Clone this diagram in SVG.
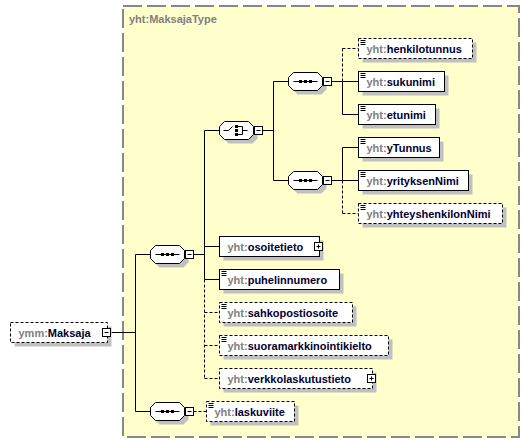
<svg xmlns="http://www.w3.org/2000/svg" xmlns:xlink="http://www.w3.org/1999/xlink" width="530" height="443" viewBox="0 0 530 443">
<style>
.frame{fill:#ffffcc;stroke:#888888;stroke-width:2;stroke-dasharray:19,5}
.title{font:bold 11px "Liberation Sans",Arial,sans-serif;fill:#808080}
.sh{fill:#c0c0c0;stroke:none}
.box{fill:#ffffff;stroke:#000000;stroke-width:1}
.opt{stroke-dasharray:3,2}
.ln{fill:none;stroke:#000000;stroke-width:1}
.dash{stroke-dasharray:3,2}
.t{font:bold 11px "Liberation Sans",Arial,sans-serif}
.ns{fill:#808080}
.nm{fill:#000033}
.dot{fill:#000000}
</style>
<defs>
<path id="oct" d="M5,-9 H29 L34,-4 V4 L29,9 H5 L0,4 V-4 Z"/>
<g id="minus"><rect class="box" x="35" y="-4" width="8" height="8"/><path class="ln" d="M37,0 H41"/></g>
<g id="seqShape">
<use href="#oct" class="sh" x="4" y="4"/>
<use href="#oct" class="box"/>
<path class="ln" d="M5,0 H29"/>
<rect class="dot" x="10.5" y="-1.5" width="3" height="3"/>
<rect class="dot" x="15.5" y="-1.5" width="3" height="3"/>
<rect class="dot" x="20.5" y="-1.5" width="3" height="3"/>
<use href="#minus"/>
</g>
<path id="icon" class="ln" d="M2,2 H7 M2,4 H7 M2,6 H7"/>
</defs>

<rect class="frame" x="123" y="6" width="396" height="431"/>
<text class="title" x="129" y="23">yht:MaksajaType</text>

<g id="connectors">
<path class="ln" d="M111.5,332.5 H135.5 M135.5,254.5 V411.5 M135.5,254.5 H150.5 M135.5,411.5 H150.5"/>
<path class="ln" d="M193.5,254.5 H204.5 M204.5,130.5 V279.5 M204.5,130.5 H219.5 M204.5,246.5 H219.5 M204.5,279.5 H219.5"/>
<path class="ln dash" d="M204.5,279.5 V378.5 M204.5,312.5 H219.5 M204.5,345.5 H219.5 M204.5,378.5 H219.5"/>
<path class="ln" d="M262.5,130.5 H273.5 M273.5,81.5 V180.5 M273.5,81.5 H288.5 M273.5,180.5 H288.5"/>
<path class="ln" d="M331.5,81.5 H342.5 M342.5,81.5 V114.5 M342.5,81.5 H358.5 M342.5,114.5 H358.5"/>
<path class="ln dash" d="M342.5,48.5 V81.5 M342.5,48.5 H358.5"/>
<path class="ln" d="M331.5,180.5 H342.5 M342.5,147.5 V180.5 M342.5,147.5 H358.5 M342.5,180.5 H358.5"/>
<path class="ln dash" d="M342.5,180.5 V213.5 M342.5,213.5 H358.5"/>
<path class="ln dash" d="M193.5,411.5 H206.5"/>
</g>

<g id="seq-main" transform="translate(150.5,254.5)"><use href="#seqShape"/></g>
<g id="seq-bottom" transform="translate(150.5,411.5)"><use href="#seqShape"/></g>
<g id="seq-person" transform="translate(288.5,81.5)"><use href="#seqShape"/></g>
<g id="seq-company" transform="translate(288.5,180.5)"><use href="#seqShape"/></g>

<g id="choice" transform="translate(219.5,130.5)">
<use href="#oct" class="sh" x="4" y="4"/>
<use href="#oct" class="box"/>
<path class="ln" d="M4,0 H9 L13,-4 M18,-4 H23 V4 H18 M23,0 H28"/>
<rect class="dot" x="15.5" y="-5.5" width="3" height="3"/>
<rect class="dot" x="15.5" y="-1.5" width="3" height="3"/>
<rect class="dot" x="15.5" y="2.5" width="3" height="3"/>
<use href="#minus"/>
</g>

<g id="maksaja" transform="translate(10.5,322.5)">
<rect class="sh" x="4" y="4" width="97" height="20"/>
<rect class="box opt" width="97" height="20"/>
<text class="t" x="8" y="14"><tspan class="ns">ymm:</tspan><tspan class="nm">Maksaja</tspan></text>
<rect class="box" x="92" y="6" width="8" height="8"/><path class="ln" d="M94,10 H98"/>
</g>

<g id="henkilotunnus" transform="translate(358.5,38.5)">
<rect class="sh" x="4" y="4" width="114" height="20"/>
<rect class="box opt" width="114" height="20"/><use href="#icon"/>
<text class="t" x="8" y="14"><tspan class="ns">yht:</tspan><tspan class="nm">henkilotunnus</tspan></text>
</g>
<g id="sukunimi" transform="translate(358.5,71.5)">
<rect class="sh" x="4" y="4" width="86" height="20"/>
<rect class="box" width="86" height="20"/><use href="#icon"/>
<text class="t" x="8" y="14"><tspan class="ns">yht:</tspan><tspan class="nm">sukunimi</tspan></text>
</g>
<g id="etunimi" transform="translate(358.5,104.5)">
<rect class="sh" x="4" y="4" width="77" height="20"/>
<rect class="box" width="77" height="20"/><use href="#icon"/>
<text class="t" x="8" y="14"><tspan class="ns">yht:</tspan><tspan class="nm">etunimi</tspan></text>
</g>
<g id="yTunnus" transform="translate(358.5,137.5)">
<rect class="sh" x="4" y="4" width="81" height="20"/>
<rect class="box" width="81" height="20"/><use href="#icon"/>
<text class="t" x="8" y="14"><tspan class="ns">yht:</tspan><tspan class="nm">yTunnus</tspan></text>
</g>
<g id="yrityksenNimi" transform="translate(358.5,170.5)">
<rect class="sh" x="4" y="4" width="110" height="20"/>
<rect class="box" width="110" height="20"/><use href="#icon"/>
<text class="t" x="8" y="14"><tspan class="ns">yht:</tspan><tspan class="nm">yrityksenNimi</tspan></text>
</g>
<g id="yhteyshenkilonNimi" transform="translate(358.5,203.5)">
<rect class="sh" x="4" y="4" width="144" height="20"/>
<rect class="box opt" width="144" height="20"/><use href="#icon"/>
<text class="t" x="8" y="14"><tspan class="ns">yht:</tspan><tspan class="nm">yhteyshenkilonNimi</tspan></text>
</g>

<g id="osoitetieto" transform="translate(219.5,236.5)">
<rect class="sh" x="4" y="4" width="100" height="20"/>
<rect class="box" width="100" height="20"/>
<text class="t" x="8" y="14"><tspan class="ns">yht:</tspan><tspan class="nm">osoitetieto</tspan></text>
<rect class="box" x="95" y="6" width="8" height="8"/><path class="ln" d="M97,10 H101 M99,8 V12"/>
</g>
<g id="puhelinnumero" transform="translate(219.5,269.5)">
<rect class="sh" x="4" y="4" width="120" height="20"/>
<rect class="box" width="120" height="20"/><use href="#icon"/>
<text class="t" x="8" y="14"><tspan class="ns">yht:</tspan><tspan class="nm">puhelinnumero</tspan></text>
</g>
<g id="sahkopostiosoite" transform="translate(219.5,302.5)">
<rect class="sh" x="4" y="4" width="133" height="20"/>
<rect class="box opt" width="133" height="20"/><use href="#icon"/>
<text class="t" x="8" y="14"><tspan class="ns">yht:</tspan><tspan class="nm">sahkopostiosoite</tspan></text>
</g>
<g id="suoramarkkinointikielto" transform="translate(219.5,335.5)">
<rect class="sh" x="4" y="4" width="169" height="20"/>
<rect class="box opt" width="169" height="20"/><use href="#icon"/>
<text class="t" x="8" y="14"><tspan class="ns">yht:</tspan><tspan class="nm">suoramarkkinointikielto</tspan></text>
</g>
<g id="verkkolaskutustieto" transform="translate(219.5,368.5)">
<rect class="sh" x="4" y="4" width="153" height="20"/>
<rect class="box opt" width="153" height="20"/>
<text class="t" x="8" y="14"><tspan class="ns">yht:</tspan><tspan class="nm">verkkolaskutustieto</tspan></text>
<rect class="box" x="148" y="6" width="8" height="8"/><path class="ln" d="M150,10 H154 M152,8 V12"/>
</g>
<g id="laskuviite" transform="translate(206.5,401.5)">
<rect class="sh" x="4" y="4" width="88" height="20"/>
<rect class="box opt" width="88" height="20"/><use href="#icon"/>
<text class="t" x="8" y="14"><tspan class="ns">yht:</tspan><tspan class="nm">laskuviite</tspan></text>
</g>
</svg>
